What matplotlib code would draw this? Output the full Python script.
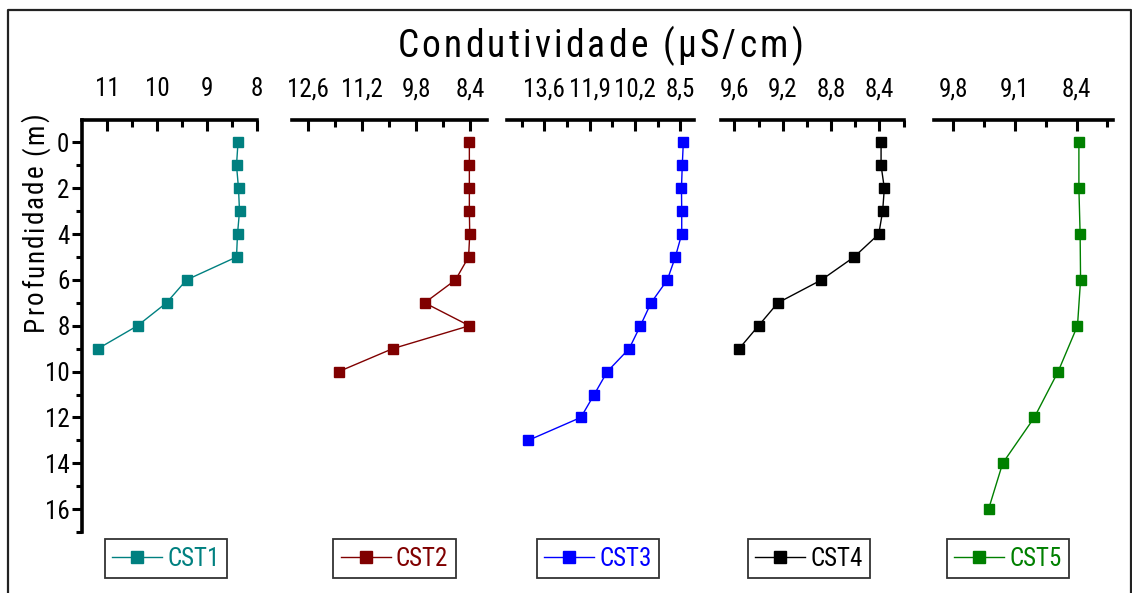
import matplotlib
matplotlib.use("Agg")
import matplotlib.pyplot as plt
from matplotlib.ticker import FixedLocator, FuncFormatter
from matplotlib.lines import Line2D

plt.rcParams['font.family'] = ['Roboto Condensed', 'Liberation Sans Narrow', 'DejaVu Sans']
plt.rcParams['font.stretch'] = 'condensed'

# Depth profiles (m) and conductivity (uS/cm) per station
names = ["CST1", "CST2", "CST3", "CST4", "CST5"]
colors = ["#008080", "#800000", "#0000FF", "#000000", "#008000"]

depth_cst1 = [0, 1, 2, 3, 4, 5, 6, 7, 8, 9]
cond_cst1 = [8.38, 8.41, 8.37, 8.35, 8.39, 8.41, 9.41, 9.81, 10.39, 11.18]

depth_cst2 = [0, 1, 2, 3, 4, 5, 6, 7, 8, 9, 10]
cond_cst2 = [8.42, 8.42, 8.42, 8.42, 8.41, 8.44, 8.78, 9.58, 8.42, 10.41, 11.81]

depth_cst3 = [0, 1, 2, 3, 4, 5, 6, 7, 8, 9, 10, 11, 12, 13]
cond_cst3 = [8.39, 8.43, 8.46, 8.45, 8.45, 8.69, 8.99, 9.60, 10.00, 10.42, 11.24, 11.73, 12.23, 14.20]

depth_cst4 = [0, 1, 2, 3, 4, 5, 6, 7, 8, 9]
cond_cst4 = [8.387, 8.387, 8.36, 8.374, 8.406, 8.61, 8.88, 9.24, 9.40, 9.56]

depth_cst5 = [0, 2, 4, 6, 8, 10, 12, 14, 16]
cond_cst5 = [8.374, 8.374, 8.36, 8.355, 8.39, 8.61, 8.88, 9.24, 9.40]

depths = [depth_cst1, depth_cst2, depth_cst3, depth_cst4, depth_cst5]
conds = [cond_cst1, cond_cst2, cond_cst3, cond_cst4, cond_cst5]

x_limits = [(11.5, 8.0), (13.03, 7.97), (15.01, 7.99), (9.71, 8.195), (10.02, 7.99)]
x_major = [[11, 10, 9, 8], [12.6, 11.2, 9.8, 8.4], [13.6, 11.9, 10.2, 8.5],
           [9.6, 9.2, 8.8, 8.4], [9.8, 9.1, 8.4]]
x_minor = [[10.5, 9.5, 8.5], [11.9, 10.5, 9.1], [14.45, 12.75, 11.05, 9.35],
           [9.4, 9.0, 8.6, 8.2], [9.45, 8.75, 8.05]]

title_text = "Condutividade (μS/cm)"
ylabel_text = "Profundidade (m)"

W, H = 1132, 593
fig = plt.figure(figsize=(W / 100, H / 100), dpi=100)
renderer = fig.canvas.get_renderer()

# panel extents in pixels (left, right)
px_lr = [(82, 257), (291.7, 486.7), (506.7, 694), (721, 904.3), (934, 1112.7)]
top_px, bot_px = 119.5, 532
legend_cx = [166, 394.5, 598, 809, 1008]


def comma_fmt(v, pos):
    s = ("%g" % round(v, 2))
    return s.replace(".", ",")


def text_width(s, size):
    # advance width in pixels, measured with a trailing sentinel glyph
    t = fig.text(0, 0, s + "|", fontsize=size)
    ref = fig.text(0, 0, "|", fontsize=size)
    w = t.get_window_extent(renderer).width - ref.get_window_extent(renderer).width
    t.remove()
    ref.remove()
    return w


def spaced_text(s, cx, cy, size, spacing, vertical=False):
    """Draw a string with extra tracking, centred on (cx, cy) in pixels."""
    offsets = [text_width(s[:k], size) + k * spacing if k else 0.0 for k in range(len(s))]
    total = text_width(s, size) + (len(s) - 1) * spacing
    for ch, off in zip(s, offsets):
        if ch == " ":
            continue
        if vertical:
            x, y = cx, cy + total / 2 - off
            fig.text(x / W, 1 - y / H, ch, fontsize=size, rotation=90,
                     ha='left', va='baseline', rotation_mode='anchor')
        else:
            x, y = cx - total / 2 + off, cy
            fig.text(x / W, 1 - y / H, ch, fontsize=size, ha='left', va='baseline')


for i in range(5):
    l, r = px_lr[i]
    ax = fig.add_axes([l / W, 1 - bot_px / H, (r - l) / W, (bot_px - top_px) / H])
    ax.plot(conds[i], depths[i], '-s', color=colors[i], lw=1.0, ms=6.8,
            mec=colors[i], label=names[i])
    ax.set_xlim(*x_limits[i])
    ax.set_ylim(17, -1)
    for s in ["bottom", "right"]:
        ax.spines[s].set_visible(False)
    ax.spines["top"].set_linewidth(2.6)
    ax.xaxis.tick_top()
    ax.xaxis.set_major_locator(FixedLocator(x_major[i]))
    ax.xaxis.set_minor_locator(FixedLocator(x_minor[i]))
    ax.xaxis.set_major_formatter(FuncFormatter(comma_fmt))
    ax.tick_params(axis='x', which='major', direction='in', length=8, width=2.2,
                   labelsize=18, pad=13)
    ax.tick_params(axis='x', which='minor', direction='in', length=5, width=2.2)
    if i == 0:
        ax.spines["left"].set_linewidth(2.6)
        ax.yaxis.set_major_locator(FixedLocator(list(range(0, 17, 2))))
        ax.yaxis.set_minor_locator(FixedLocator(list(range(1, 18, 2))))
        ax.tick_params(axis='y', which='major', direction='out', length=7, width=2.2,
                       labelsize=18, pad=2)
        ax.tick_params(axis='y', which='minor', direction='out', length=4, width=2.2)
    else:
        ax.spines["left"].set_visible(False)
        ax.set_yticks([])
    ax.set_facecolor("none")

    leg = fig.legend(handles=[Line2D([], [], color=colors[i], lw=1.0, marker='s',
                                     ms=8, mec=colors[i])],
                     labels=[names[i]], loc='center',
                     bbox_to_anchor=(legend_cx[i] / W, 1 - 558.5 / H),
                     fontsize=18, frameon=True, fancybox=False, handlelength=2.0,
                     handletextpad=0.2, borderpad=0.3, borderaxespad=0,
                     labelcolor=colors[i])
    leg.get_frame().set_edgecolor("black")
    leg.get_frame().set_linewidth(1.3)

# title and depth label with wide letter spacing
spaced_text(title_text, 600, 57, 27, 3.2)
spaced_text(ylabel_text, 43, 222, 19.5, 2.0, vertical=True)

# outer frame
fig.add_artist(Line2D([8 / W, 8 / W, 1130.5 / W, 1130.5 / W], [0, 1 - 10 / H, 1 - 10 / H, 0],
                      transform=fig.transFigure, color="#222222", lw=1.6))

fig.savefig("out.png", dpi=100)
